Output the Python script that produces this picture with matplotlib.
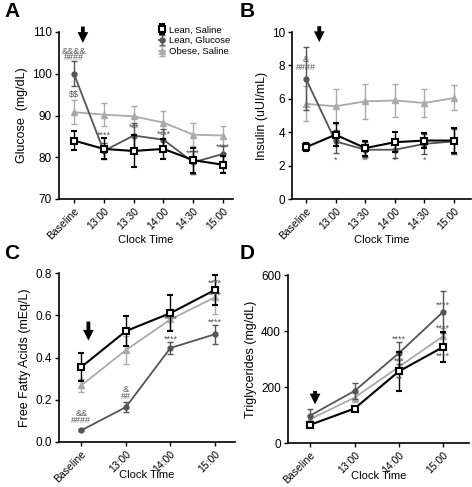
import matplotlib
matplotlib.use("Agg")
import matplotlib.pyplot as plt
import numpy as np

plt.rcParams['font.family'] = ['Liberation Sans', 'DejaVu Sans']

series_names = ["Lean, Saline", "Lean, Glucose", "Obese, Saline"]
colors = ["#000000", "#555555", "#aaaaaa"]

# Panel A: Glucose
a_ticks = ["Baseline", "13:00", "13:30", "14:00", "14:30", "15:00"]
a_lean_saline = [84.0, 82.0, 81.5, 82.0, 79.3, 78.2]
a_lean_saline_err = [2.2, 2.5, 3.8, 2.3, 3.0, 2.0]
a_lean_glucose = [100.0, 81.5, 85.2, 84.2, 78.8, 80.8]
a_lean_glucose_err = [3.0, 2.0, 3.0, 2.5, 2.8, 1.8]
a_obese_saline = [90.8, 90.2, 89.8, 88.3, 85.4, 85.2]
a_obese_saline_err = [2.8, 2.7, 2.5, 2.7, 2.7, 2.3]

# Panel B: Insulin
b_ticks = a_ticks
b_lean_saline = [3.1, 3.85, 3.05, 3.4, 3.5, 3.5]
b_lean_saline_err = [0.25, 0.7, 0.45, 0.6, 0.45, 0.75]
b_lean_glucose = [7.2, 3.45, 2.95, 2.95, 3.3, 3.45]
b_lean_glucose_err = [1.9, 0.7, 0.45, 0.5, 0.6, 0.75]
b_obese_saline = [5.7, 5.55, 5.85, 5.9, 5.75, 6.05]
b_obese_saline_err = [1.05, 1.05, 1.05, 1.0, 0.85, 0.75]

# Panel C: Free fatty acids
c_ticks = ["Baseline", "13:00", "14:00", "15:00"]
c_lean_saline = [0.355, 0.525, 0.61, 0.72]
c_lean_saline_err = [0.065, 0.07, 0.085, 0.07]
c_lean_glucose = [0.055, 0.165, 0.445, 0.51]
c_lean_glucose_err = [0.005, 0.025, 0.03, 0.045]
c_obese_saline = [0.268, 0.435, 0.58, 0.685]
c_obese_saline_err = [0.03, 0.065, 0.05, 0.08]

# Panel D: Triglycerides
d_ticks = c_ticks
d_lean_saline = [65, 123, 256, 343]
d_lean_saline_err = [5, 5, 70, 55]
d_lean_glucose = [98, 186, 321, 469]
d_lean_glucose_err = [25, 28, 40, 75]
d_obese_saline = [85, 162, 272, 382]
d_obese_saline_err = [15, 15, 25, 30]

fig = plt.figure(figsize=(4.72, 4.87), dpi=100)

def style_axes(ax, ticks, ylim, yticks, yfmt, ylabel, xlim, xlab_y):
    ax.set_xlim(*xlim)
    ax.set_ylim(*ylim)
    ax.set_yticks(yticks)
    ax.set_yticklabels([yfmt.format(v) for v in yticks], fontsize=8.5)
    ax.set_xticks(range(len(ticks)))
    ax.set_xticklabels(ticks, rotation=45, ha="right", rotation_mode="anchor", fontsize=7.5)
    ax.spines["top"].set_visible(False)
    ax.spines["right"].set_visible(False)
    ax.spines["left"].set_linewidth(1.2)
    ax.spines["bottom"].set_linewidth(1.2)
    ax.tick_params(direction="out", length=3, width=1, pad=2)
    ax.set_ylabel(ylabel, fontsize=9, labelpad=3)
    ax.set_xlabel("Clock Time", fontsize=8)
    ax.xaxis.set_label_coords(0.5, xlab_y)

def plot_series(ax, ys, errs):
    x = np.arange(len(ys[0]))
    specs = [
        (2, "^", 4, colors[2], colors[2]),
        (1, "o", 3.5, colors[1], colors[1]),
        (0, "s", 5, colors[0], "white"),
    ]
    handles = {}
    for idx, m, ms, c, fc in specs:
        eb = ax.errorbar(x, ys[idx], yerr=errs[idx], color=c, marker=m, ms=ms,
                         mfc=fc, mec=c, mew=1.5 if idx == 0 else 1,
                         lw=1.5 if idx == 0 else 1.3, elinewidth=1, capsize=2.5,
                         capthick=1, label=series_names[idx], zorder=3 + (2 - idx))
        handles[idx] = eb
    return handles

def arrow(ax, x, ytop, ybot):
    ax.annotate("", xy=(x, ybot), xytext=(x, ytop),
                arrowprops=dict(arrowstyle="simple,head_length=0.7,head_width=0.7,tail_width=0.25",
                                color="black", lw=0, mutation_scale=11, shrinkA=0, shrinkB=0),
                annotation_clip=False)

def txt(ax, x, y, s, color="#555555", fs=6.5):
    ax.text(x, y, s, ha="center", va="center", fontsize=fs, color=color, zorder=10,
            parse_math=False)

# ---- A
axA = fig.add_axes([59/472, 1-199/487, (233-59)/472, 167/487])
h = plot_series(axA, [a_lean_saline, a_lean_glucose, a_obese_saline],
                [a_lean_saline_err, a_lean_glucose_err, a_obese_saline_err])
style_axes(axA, a_ticks, (70, 110), [70, 80, 90, 100, 110], "{:d}", "Glucose  (mg/dL)",
           (-0.5, 5.33), -0.215)
arrow(axA, 0.3, 111.3, 107.4)
txt(axA, 0, 105.3, "&&&&")
txt(axA, 0, 103.9, "####")
txt(axA, 0, 95.0, "$$")
txt(axA, 1, 85.2, "****")
txt(axA, 2, 87.2, "***")
txt(axA, 3, 85.4, "****")
txt(axA, 4, 80.9, "****")
txt(axA, 5, 82.3, "****")
leg = axA.legend(handles=[h[0], h[1], h[2]], loc="upper left", frameon=False,
                 fontsize=6.8, handlelength=0.6, handletextpad=0.5, labelspacing=0.2,
                 borderaxespad=0.0, borderpad=0.0, bbox_to_anchor=(0.575, 1.04))

# ---- B
axB = fig.add_axes([292/472, 1-199/487, (471-292)/472, 167/487])
plot_series(axB, [b_lean_saline, b_lean_glucose, b_obese_saline],
            [b_lean_saline_err, b_lean_glucose_err, b_obese_saline_err])
style_axes(axB, b_ticks, (0, 10), [0, 2, 4, 6, 8, 10], "{:d}", "Insulin (uUI/mL)",
           (-0.47, 5.57), -0.215)
arrow(axB, 0.45, 10.35, 9.4)
txt(axB, 0, 8.35, "&")
txt(axB, 0, 7.85, "####")
txt(axB, 1, 2.35, "*")
txt(axB, 2, 2.35, "**")
txt(axB, 3, 2.35, "*")
txt(axB, 4, 2.35, "*")

# ---- C
axC = fig.add_axes([59/472, 1-442/487, (235-59)/472, 169/487])
plot_series(axC, [c_lean_saline, c_lean_glucose, c_obese_saline],
            [c_lean_saline_err, c_lean_glucose_err, c_obese_saline_err])
style_axes(axC, c_ticks, (0, 0.8), [0.0, 0.2, 0.4, 0.6, 0.8], "{:.1f}", "Free Fatty Acids (mEq/L)",
           (-0.5, 3.45), -0.165)
arrow(axC, 0.16, 0.57, 0.48)
txt(axC, 0, 0.135, "&&")
txt(axC, 0, 0.1, "####")
txt(axC, 1, 0.25, "&")
txt(axC, 1, 0.217, "##")
txt(axC, 3, 0.75, "****")
txt(axC, 3, 0.695, "****")
txt(axC, 3, 0.565, "****")
txt(axC, 2, 0.58, "****")
txt(axC, 2, 0.485, "****")

# ---- D
axD = fig.add_axes([288/472, 1-443/487, (469-288)/472, 168/487])
plot_series(axD, [d_lean_saline, d_lean_glucose, d_obese_saline],
            [d_lean_saline_err, d_lean_glucose_err, d_obese_saline_err])
style_axes(axD, d_ticks, (0, 600), [0, 200, 400, 600], "{:d}", "Triglycerides (mg/dL)",
           (-0.5, 3.58), -0.165)
arrow(axD, 0.11, 186, 138)
txt(axD, 2, 371, "****")
txt(axD, 2, 293, "***")
txt(axD, 2, 229, "**")
txt(axD, 3, 493, "****")
txt(axD, 3, 411, "****")
txt(axD, 3, 311, "****")

for lab, x, y in [("A", 4, 2), ("B", 240, 2), ("C", 4, 244), ("D", 240, 244)]:
    fig.text(x/472, 1-y/487, lab, fontsize=15, fontweight="bold", ha="left", va="top")

fig.savefig("out.png", dpi=100)
